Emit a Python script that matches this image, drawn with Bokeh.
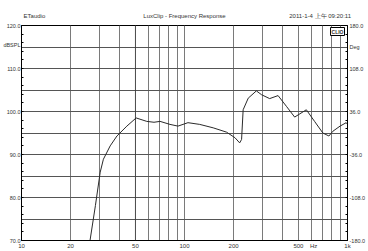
from bokeh.plotting import figure
from bokeh.models import (Range1d, LinearAxis, LogAxis, FixedTicker,
                          NumeralTickFormatter, Label, Span)
from bokeh.embed import file_html
from bokeh.resources import INLINE

# ---- data ----
freq_hz = [26.2, 28.4, 30.4, 31.8, 35.0, 38.5, 44.3, 50.5, 58.7, 65.0, 70.8, 81.5, 91.2,
           105, 124, 150, 181, 204, 218, 224, 229, 246, 276, 297, 333, 375, 422, 474,
           559, 628, 706, 769, 813, 900, 982, 1000]
spl_db = [69.5, 78.1, 85.9, 88.9, 92.0, 94.3, 96.6, 98.5, 97.7, 97.5, 97.7, 97.0, 96.6,
          97.4, 97.0, 96.2, 95.2, 93.9, 92.7, 93.5, 100.4, 103.1, 104.8, 103.9, 103.0, 103.7,
          101.2, 98.7, 100.4, 97.7, 95.0, 94.3, 95.4, 96.6, 97.4, 97.0]
x_ticks = [10, 20, 50, 100, 200, 500, 1000]
x_tick_labels = {1000: "1k"}
x_unit_pos, x_unit = 620, "Hz"
x_grid = [20, 30, 40, 50, 60, 70, 80, 90, 100, 200, 300, 400, 500, 600, 700, 800, 900]
spl_ticks = [70, 80, 90, 100, 110, 120]
spl_unit_pos, spl_unit = 115.4, "dBSPL"
spl_grid = [75, 80, 85, 90, 95, 100, 105, 110, 115]
spl_minor = [70 + 2 * i for i in range(26)]
deg_ticks = [-180, -108, -36, 36, 108, 180]
deg_unit_pos, deg_unit = 143.5, "Deg"
deg_minor = [-180 + 14.4 * i for i in range(26)]
cursor_hz = 50
header_pos = [12, 100, 680]
header_text = ["ETaudio", "LuxClip - Frequency Response", "2011-1-4 上午 09:20:11"]

FONT = "Liberation Sans"
TXT = "#333333"

p = figure(width=368, height=251, x_axis_type="log",
           x_range=Range1d(10, 1000), y_range=Range1d(70, 120),
           output_backend="svg", toolbar_location=None,
           min_border_left=21, min_border_right=20, min_border_top=25, min_border_bottom=9)
p.background_fill_color = "white"
p.border_fill_color = "white"
p.outline_line_color = "black"
p.outline_line_width = 1


def style(ax, size="6px"):
    ax.major_label_text_font = FONT
    ax.major_label_text_font_size = size
    ax.major_label_text_color = TXT
    ax.major_tick_out = 0
    ax.major_tick_in = 0
    ax.minor_tick_out = 0


# x axis
xa = p.xaxis[0]
style(xa)
xa.ticker = FixedTicker(ticks=x_ticks + [x_unit_pos])
xa.formatter = NumeralTickFormatter(format="0")
xa.major_label_overrides = {**x_tick_labels, x_unit_pos: x_unit}
xa.minor_tick_in = 0
xa.axis_line_color = "black"
xa.major_label_standoff = 2

# left axis
ya = p.yaxis[0]
style(ya, "5.5px")
ya.ticker = FixedTicker(ticks=spl_ticks + [spl_unit_pos], minor_ticks=spl_minor)
ya.formatter = NumeralTickFormatter(format="0.0")
ya.major_label_overrides = {spl_unit_pos: spl_unit}
ya.minor_tick_in = 2
ya.major_label_standoff = 1

# right axis (phase)
p.extra_y_ranges = {"phase": Range1d(-180, 180)}
ra = LinearAxis(y_range_name="phase",
                ticker=FixedTicker(ticks=deg_ticks + [deg_unit_pos], minor_ticks=deg_minor),
                formatter=NumeralTickFormatter(format="0.0"))
style(ra, "5.5px")
ra.major_label_overrides = {deg_unit_pos: deg_unit}
ra.minor_tick_in = 2
ra.major_label_standoff = 2
p.add_layout(ra, "right")

# header line drawn as a tick-less axis above the frame
ha = LogAxis(ticker=FixedTicker(ticks=header_pos),
             major_label_overrides=dict(zip(header_pos, header_text)))
style(ha)
ha.minor_tick_in = 0
ha.axis_line_color = None
ha.major_label_standoff = 7
p.add_layout(ha, "above")

# grids
p.xgrid.ticker = FixedTicker(ticks=x_grid)
p.xgrid.grid_line_color = "#7a7a7a"
p.xgrid.grid_line_width = 1
p.ygrid.ticker = FixedTicker(ticks=spl_grid)
p.ygrid.grid_line_color = "#555555"
p.ygrid.grid_line_width = 1

# cursor
p.add_layout(Span(location=cursor_hz, dimension="height", line_color="#222222",
                  line_dash="1 1", line_width=1))

# curve
p.line(freq_hz, spl_db, line_color="#2a2a2a", line_width=1)

# CLIO badge
p.add_layout(Label(x=1000, y=120, text="CLIO", x_offset=-3, y_offset=-2,
                   text_baseline="top", text_align="right", text_font=FONT,
                   text_font_size="5px", text_font_style="bold", text_color=TXT,
                   border_line_color="black", background_fill_color="white", padding=1))

open("out.html", "w").write(file_html(p, INLINE))
